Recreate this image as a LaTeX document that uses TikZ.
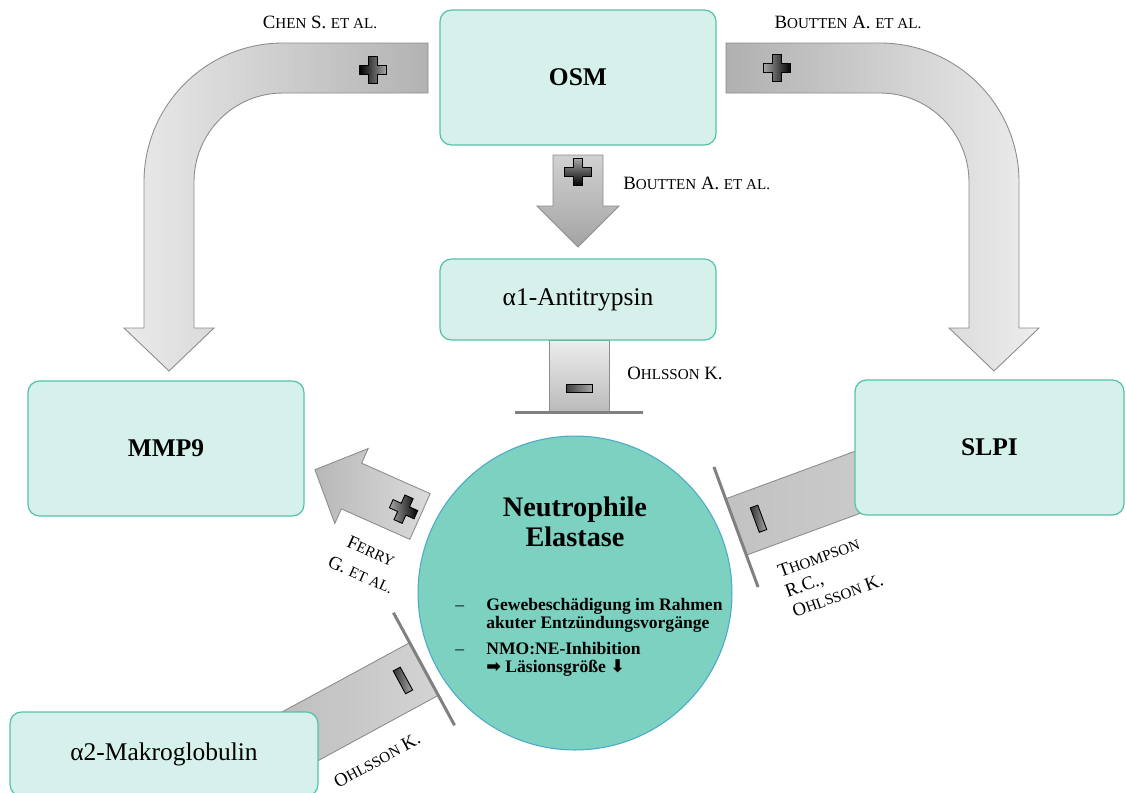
\documentclass[tikz,border=0pt]{standalone}
\usepackage{fontspec}
\setmainfont{Liberation Serif}
\newfontfamily\dejavu{DejaVu Sans}
\definecolor{boxfill}{RGB}{214,240,235}
\definecolor{boxline}{RGB}{84,194,168}
\definecolor{nefill}{RGB}{125,209,193}
\definecolor{neline}{RGB}{75,170,200}
\definecolor{barcol}{RGB}{128,128,128}
\newcommand\lblfont{\fontsize{10.7}{12}\selectfont}
\newcommand\smc[1]{{\fontsize{8.6}{10}\selectfont #1}}
\newcommand\plusat[3]{\path[signshape, shift={#1}, rotate=#2, #3] (-4.5,-13.5) -- (4.5,-13.5) -- (4.5,-4.5) -- (13.5,-4.5) -- (13.5,4.5) -- (4.5,4.5) -- (4.5,13.5) -- (-4.5,13.5) -- (-4.5,4.5) -- (-13.5,4.5) -- (-13.5,-4.5) -- (-4.5,-4.5) -- cycle;}
\newcommand\minusat[3]{\path[signshape, shift={#1}, rotate=#2, #3] (-13,-4) rectangle (13,4);}
\tikzset{
  box/.style={draw=boxline, fill=boxfill, line width=0.7pt, rounded corners=6.5pt, inner sep=0pt},
  boxtitle/.style={font=\fontsize{14.5}{17}\selectfont\bfseries},
  boxname/.style={font=\fontsize{14.5}{17}\selectfont},
  reflabel/.style={font=\lblfont, inner sep=0pt, align=center},
  arrowshape/.style={draw=black!45, line width=0.5pt},
  inhibbar/.style={draw=barcol, line width=1.7pt},
  signshape/.style={draw=black, line width=0.5pt},
}
\begin{document}
\begin{tikzpicture}[x=0.02cm,y=-0.02cm]
\useasboundingbox (0,0) rectangle (1126,792);
\clip (0,0) rectangle (1126,792);

% curved arrow OSM -> MMP9
\shade[arrowshape, left color=black!8, right color=black!30]
  (428,43) -- (283,43) .. controls (206.2,43) and (144,105.2) .. (144,182)
  -- (144,328) -- (124,328) -- (169,371) -- (214,328) -- (194,328) -- (194,182)
  .. controls (194,132.8) and (233.8,93) .. (283,93) -- (428,93) -- cycle;
\plusat{(373,70)}{0}{left color=black, right color=black!35}

% curved arrow OSM -> SLPI
\shade[arrowshape, left color=black!31, right color=black!7]
  (726,43) -- (880,43) .. controls (956.8,43) and (1019,105.2) .. (1019,182)
  -- (1019,328) -- (1039,328) -- (994,371) -- (949,328) -- (969,328) -- (969,182)
  .. controls (969,132.8) and (929.2,93) .. (880,93) -- (726,93) -- cycle;
\plusat{(777,68)}{0}{left color=black!35, right color=black}

% down arrow OSM -> a1AT
\shade[arrowshape, top color=black!18, bottom color=black!36]
  (553,155) -- (603,155) -- (603,206) -- (619,206) -- (578,247) -- (537,206) -- (553,206) -- cycle;
\plusat{(578,172)}{0}{top color=black!35, bottom color=black}

% inhibition a1AT -> NE
\shade[arrowshape, top color=black!7, bottom color=black!27] (549,340) rectangle (609,412);
\draw[inhibbar] (515,412) -- (643,412);
\minusat{(579,388)}{0}{left color=black!75, right color=black!35}

% arrow NE -> MMP9
\begin{scope}[shift={(420,516.5)}, rotate=156]
  \shade[arrowshape, left color=black!28, right color=black!14]
    (0,-25) -- (75,-25) -- (75,-41) -- (115,0) -- (75,41) -- (75,25) -- (0,25) -- cycle;
  \plusat{(18,0)}{0}{left color=black!35, right color=black}
\end{scope}

% inhibition SLPI -> NE
\begin{scope}[shift={(736,527)}, rotate=20.2]
  \shade[arrowshape, left color=black!24, right color=black!20] (0,-30) rectangle (160,30);
  \draw[inhibbar] (0,-64) -- (0,64);
  \minusat{(24,0)}{90}{left color=black!80, right color=black!35}
\end{scope}

% inhibition a2M -> NE
\begin{scope}[shift={(424,669)}, rotate=208.5]
  \shade[arrowshape, left color=black!26, right color=black!17] (0,-30) rectangle (160,30);
  \draw[inhibbar] (0,-64) -- (0,64);
  \minusat{(24,0)}{90}{left color=black!80, right color=black!35}
\end{scope}

% boxes
\node[box, boxtitle, minimum width=5.52cm, minimum height=2.7cm] (osm) at (578,77.5) {OSM};
\node[box, boxname, minimum width=5.52cm, minimum height=1.62cm] (a1at) at (578,299.5) {α1-Antitrypsin};
\node[box, boxtitle, minimum width=5.52cm, minimum height=2.7cm] (mmp9) at (166,448.5) {MMP9};
\node[box, boxtitle, minimum width=5.38cm, minimum height=2.7cm] (slpi) at (989.5,447.5) {SLPI};
\node[box, boxname, minimum width=6.16cm, minimum height=1.68cm] (a2m) at (164,754) {α2-Makroglobulin};

% neutrophil elastase
\node[circle, draw=neline, fill=nefill, line width=0.6pt, minimum size=6.28cm, inner sep=0pt] (ne) at (575,593) {};
\node[font=\fontsize{16.1}{17}\selectfont\bfseries, align=center, inner sep=0pt] (netitle) at (575,522) {Neutrophile\\Elastase};
\node[anchor=north west, inner sep=0pt, font=\fontsize{10}{10.3}\selectfont\bfseries] (nelist) at (455,597)
 {\begin{tabular}{@{}p{0.62cm}@{}l@{}}
   \mdseries – & Gewebeschädigung im Rahmen\\
              & akuter Entzündungsvorgänge\\[4.5pt]
   \mdseries – & NMO:NE-Inhibition\\
              & {\dejavu ➡} Läsionsgröße {\dejavu ⬇}
  \end{tabular}};

% reference labels
\node[reflabel] (lchen) at (320,22) {C\smc{HEN} S. \smc{ET AL.}};
\node[reflabel] (lbout1) at (848,22) {B\smc{OUTTEN} A. \smc{ET AL.}};
\node[reflabel, anchor=west] (lbout2) at (623,183) {B\smc{OUTTEN} A. \smc{ET AL.}};
\node[reflabel, anchor=west] (lohl1) at (627,373) {O\smc{HLSSON} K.};
\node[reflabel, rotate=-24, font=\fontsize{10.7}{14.5}\selectfont] (lferry) at (366,563) {F\smc{ERRY}\\G. \smc{ET AL.}};
\node[reflabel, rotate=20, align=left, anchor=north west] (lthomp) at (776,566) {T\smc{HOMPSON}\\R.C.,\\O\smc{HLSSON} K.};
\node[reflabel, rotate=28.5] (lohl2) at (377,760) {O\smc{HLSSON} K.};
\end{tikzpicture}
\end{document}
